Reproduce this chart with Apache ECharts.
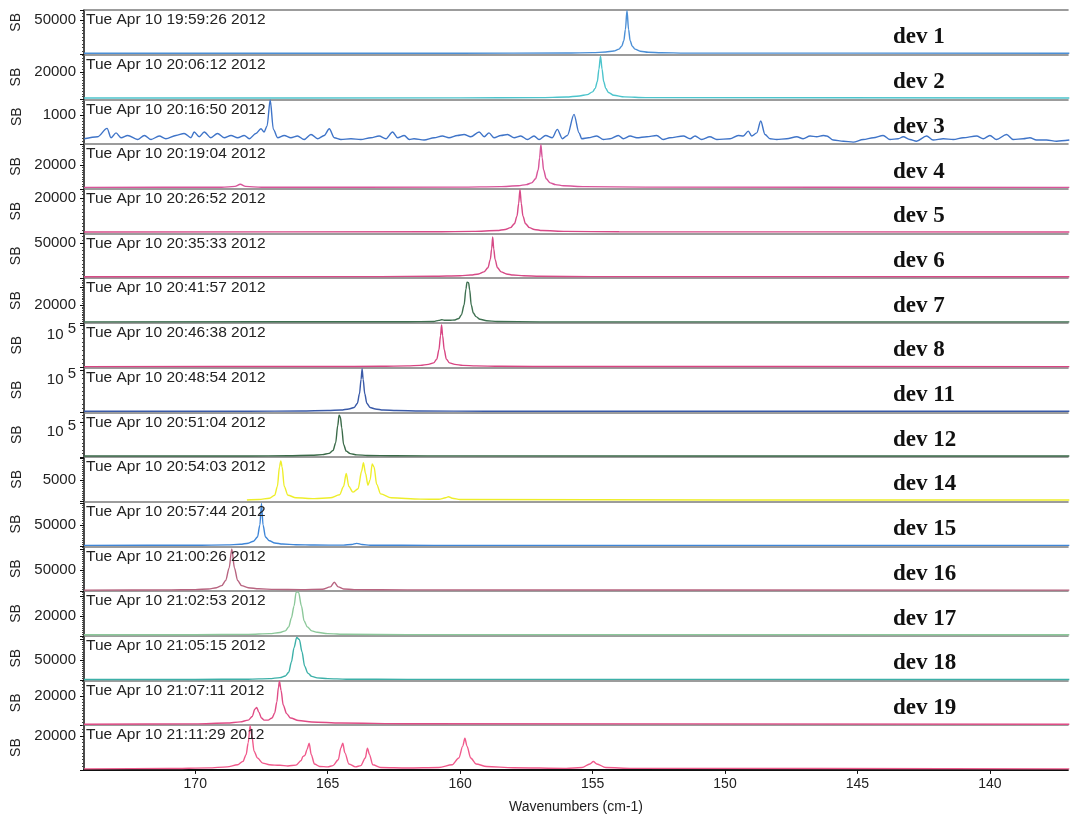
<!DOCTYPE html>
<html>
<head>
<meta charset="utf-8">
<script src="https://cdn.jsdelivr.net/npm/echarts@6/dist/echarts.min.js"></script>
<style>
  html, body { margin: 0; padding: 0; background: #fff; }
  #chart { width: 1070px; height: 818px; }
</style>
</head>
<body>
<div id="chart"></div>
<script>
// Acquisition time stamp of each spectrum, top to bottom
const stamps = [
  'Tue Apr 10 19:59:26 2012', 'Tue Apr 10 20:06:12 2012', 'Tue Apr 10 20:16:50 2012',
  'Tue Apr 10 20:19:04 2012', 'Tue Apr 10 20:26:52 2012', 'Tue Apr 10 20:35:33 2012',
  'Tue Apr 10 20:41:57 2012', 'Tue Apr 10 20:46:38 2012', 'Tue Apr 10 20:48:54 2012',
  'Tue Apr 10 20:51:04 2012', 'Tue Apr 10 20:54:03 2012', 'Tue Apr 10 20:57:44 2012',
  'Tue Apr 10 21:00:26 2012', 'Tue Apr 10 21:02:53 2012', 'Tue Apr 10 21:05:15 2012',
  'Tue Apr 10 21:07:11 2012', 'Tue Apr 10 21:11:29 2012'
];
// Device names (last trace is unlabelled)
const devNames = ['dev 1', 'dev 2', 'dev 3', 'dev 4', 'dev 5', 'dev 6', 'dev 7', 'dev 8',
  'dev 11', 'dev 12', 'dev 14', 'dev 15', 'dev 16', 'dev 17', 'dev 18', 'dev 19', ''];
// Labelled intensity tick of each panel and the panel's full-scale value
const yLabelValues = [50000, 20000, 1000, 20000, 20000, 50000, 20000, 100000, 100000, 100000,
  5000, 50000, 50000, 20000, 50000, 20000, 20000];
const yMax = [64000, 32500, 1550, 37600, 25300, 64000, 50000, 105000, 106000, 128000,
  10300, 104000, 106000, 45000, 109000, 30800, 26300];
// Wavenumber ticks (cm-1)
const xTicks = [170, 165, 160, 155, 150, 145, 140];
const xRange = [137.05, 174.2];

// Spectra: [wavenumber (cm-1), intensity]
const dev1 = [[174.2,2000],[160,2100],[156,2400],[155,2900],[154.5,3800],[154.2,5200],[154.0,8000],[153.9,12000],[153.82,20000],[153.76,36000],[153.70,63500],[153.64,36000],[153.58,20000],[153.50,12000],[153.4,8000],[153.2,5000],[152.9,3600],[152.4,2800],[151.5,2300],[137,2000]];
const dev2 = [[174.2,1000],[160,1100],[157,1300],[156,1700],[155.5,2500],[155.2,3500],[155.0,5500],[154.9,8000],[154.82,13000],[154.76,22000],[154.70,31500],[154.64,22000],[154.58,13000],[154.5,8000],[154.4,5000],[154.2,3000],[153.8,1800],[153,1300],[137,1000]];
const dev3 = [[174.19,185],[173.69,255],[173.33,545],[173.18,220],[172.99,390],[172.80,220],[172.55,300],[172.18,160],[171.92,300],[171.67,160],[171.36,280],[171.11,185],[170.73,300],[170.42,370],[170.16,220],[170.04,420],[169.85,255],[169.66,420],[169.41,220],[169.16,370],[168.91,220],[168.65,300],[168.40,220],[168.15,300],[167.96,185],[167.71,370],[167.52,530],[167.40,420],[167.29,625],[167.17,1530],[167.05,510],[166.89,220],[166.64,300],[166.39,220],[166.14,280],[165.89,160],[165.63,335],[165.38,185],[165.13,300],[164.94,530],[164.75,220],[164.50,160],[164.12,185],[163.75,160],[163.37,220],[163.06,280],[162.80,185],[162.55,420],[162.36,220],[162.11,300],[161.92,160],[161.74,185],[161.36,140],[160.98,220],[160.67,280],[160.42,220],[160.10,300],[159.85,335],[159.60,255],[159.28,420],[159.09,255],[158.91,390],[158.72,220],[158.46,300],[158.21,335],[157.96,220],[157.71,280],[157.46,160],[157.21,280],[157.02,160],[156.77,300],[156.52,220],[156.33,510],[156.14,185],[155.95,300],[155.70,1030],[155.51,390],[155.41,185],[155.16,220],[154.84,280],[154.59,160],[154.34,185],[154.03,300],[153.84,185],[153.58,280],[153.33,220],[152.95,255],[152.58,300],[152.33,160],[152.08,220],[151.57,280],[151.32,185],[151.13,280],[150.88,160],[150.57,255],[150.31,160],[149.81,185],[149.50,300],[149.31,280],[149.12,450],[148.99,280],[148.80,390],[148.65,800],[148.49,335],[148.30,185],[148.05,160],[147.67,185],[147.29,255],[147.05,185],[146.79,280],[146.54,255],[146.29,300],[146.16,280],[145.91,140],[145.53,100],[145.16,70],[144.78,160],[144.40,220],[144.03,300],[143.77,160],[143.46,185],[143.27,255],[143.02,160],[142.77,100],[142.39,280],[142.14,140],[141.76,185],[141.38,160],[141.01,220],[140.50,280],[140.25,185],[140.00,300],[139.75,160],[139.37,335],[139.12,160],[138.74,185],[138.49,220],[138.24,140],[137.86,140],[137.48,100],[137.0,140]];
const dev4 = [[174.2,1200],[169,1300],[168.5,2000],[168.3,3800],[168.1,2000],[167.5,1300],[160,1400],[158.5,1800],[157.8,2600],[157.5,3500],[157.3,5000],[157.15,8500],[157.05,16000],[157.0,26000],[156.95,37000],[156.9,26000],[156.85,16000],[156.75,8500],[156.6,5000],[156.4,3500],[156.1,2600],[155.3,1800],[153,1400],[137,1200]];
const dev5 = [[174.2,850],[161,950],[159.5,1200],[158.6,1700],[158.3,2300],[158.1,3300],[157.95,5500],[157.85,10000],[157.79,17000],[157.74,25000],[157.69,17000],[157.63,10000],[157.53,5500],[157.38,3300],[157.2,2300],[156.9,1700],[156,1200],[154,950],[137,850]];
const dev6 = [[174.2,2100],[163,2300],[161,2800],[160,3500],[159.6,4500],[159.3,6000],[159.1,9000],[158.95,15000],[158.86,27000],[158.81,42000],[158.77,59000],[158.73,42000],[158.68,27000],[158.59,15000],[158.45,9000],[158.25,6000],[158.0,4500],[157.6,3500],[157,2700],[155,2300],[137,2100]];
const dev7 = [[174.2,1100],[162,1300],[161,1600],[160.8,2800],[160.7,3600],[160.6,3000],[160.4,2900],[160.2,3300],[160.05,5000],[159.95,9000],[159.85,20000],[159.78,38000],[159.74,45500],[159.68,45000],[159.64,37000],[159.58,20000],[159.5,11000],[159.4,7000],[159.25,4000],[159.0,2400],[158.6,1600],[157,1200],[137,1100]];
const dev8 = [[174.2,2300],[165,2500],[163,3000],[162,4000],[161.5,5200],[161.2,7500],[161.0,11000],[160.88,20000],[160.8,42000],[160.74,75000],[160.7,100000],[160.66,75000],[160.6,42000],[160.52,20000],[160.4,11000],[160.2,7500],[159.9,5200],[159.4,4000],[158.5,3000],[156,2500],[137,2300]];
const dev11 = [[174.2,2400],[168,2600],[166,3100],[165,4100],[164.5,5300],[164.2,7800],[164.0,11500],[163.88,21000],[163.8,44000],[163.74,78000],[163.7,103000],[163.66,78000],[163.6,44000],[163.52,21000],[163.4,11500],[163.2,7800],[162.9,5300],[162.4,4100],[161.5,3100],[159,2600],[137,2400]];
const dev12 = [[174.2,2900],[168,3000],[166.5,3600],[165.6,4800],[165.2,6800],[164.95,10400],[164.8,18400],[164.7,40000],[164.62,90000],[164.57,120000],[164.52,114000],[164.47,84000],[164.4,36000],[164.3,16800],[164.15,9600],[163.9,6000],[163.5,4500],[162.5,3600],[160,3100],[137,2900]];
const dev14 = [[168.05,400],[167.6,500],[167.2,800],[167.0,1500],[166.9,3500],[166.82,8000],[166.77,9400],[166.72,8000],[166.64,3500],[166.5,1500],[166.2,900],[165.5,700],[164.9,900],[164.55,1600],[164.4,3500],[164.3,6500],[164.2,3500],[164.05,2200],[163.85,3000],[163.72,7000],[163.65,9000],[163.57,6500],[163.48,3800],[163.4,5000],[163.32,8700],[163.25,8000],[163.15,4000],[163.0,1800],[162.6,900],[161.5,600],[160.8,550],[160.55,900],[160.44,1150],[160.3,800],[160,500],[150,400],[137,400]];
const dev15 = [[174.2,2300],[170,2600],[168.8,3500],[168.3,5000],[168.0,7500],[167.8,12000],[167.65,22000],[167.56,50000],[167.5,100000],[167.44,50000],[167.35,22000],[167.2,13000],[167.0,8000],[166.7,5500],[166.2,4000],[165.5,3200],[164.4,2900],[164.1,4500],[163.9,7000],[163.7,4500],[163.4,2800],[161,2500],[137,2300]];
const dev16 = [[174.2,2400],[171,2800],[170,3500],[169.5,5000],[169.2,8000],[169.0,13000],[168.85,25000],[168.72,55000],[168.62,100000],[168.52,55000],[168.4,25000],[168.25,13000],[168.0,8000],[167.6,5500],[167.0,4000],[166,3500],[165.2,4500],[164.9,10000],[164.75,21000],[164.6,10000],[164.4,5000],[164,3500],[162,2800],[137,2400]];
const dev17 = [[174.2,1000],[170,1100],[168,1400],[167.2,2200],[166.8,3300],[166.6,5000],[166.47,9000],[166.37,18000],[166.27,30000],[166.19,44000],[166.1,44000],[165.99,30000],[165.89,15000],[165.77,9000],[165.6,5000],[165.4,3500],[165.0,2200],[164.3,1500],[162,1200],[137,1000]];
const dev18 = [[174.2,2400],[170,2600],[168,3200],[167.2,4500],[166.8,7000],[166.6,11000],[166.47,20000],[166.37,45000],[166.27,80000],[166.17,105000],[166.07,100000],[165.97,70000],[165.87,35000],[165.75,18000],[165.6,10000],[165.4,6500],[165.0,4500],[164.3,3200],[162,2800],[137,2400]];
const dev19 = [[174.2,700],[170,900],[168.8,1500],[168.3,2300],[168.0,3500],[167.85,6000],[167.75,11000],[167.68,12200],[167.6,9000],[167.5,5000],[167.4,3500],[167.25,3500],[167.1,5000],[167.0,8500],[166.92,16000],[166.86,26000],[166.82,30300],[166.76,24000],[166.68,14000],[166.55,8000],[166.4,5000],[166.1,3200],[165.6,2200],[164.5,1500],[162,1000],[137,700]];
const devLast = [[174.2,600],[171,800],[169.5,1200],[168.8,1800],[168.4,3000],[168.2,5000],[168.08,9000],[168.0,16000],[167.93,26000],[167.86,20000],[167.78,11000],[167.65,7000],[167.45,4000],[167.2,3000],[167.0,2800],[166.8,2700],[166.5,2300],[166.2,2800],[166.0,5500],[165.94,7800],[165.86,8500],[165.78,12000],[165.7,15700],[165.62,9000],[165.5,3500],[165.3,2000],[165.0,1800],[164.8,2500],[164.6,6000],[164.5,13000],[164.43,15700],[164.35,10000],[164.2,3500],[163.95,1800],[163.75,2500],[163.58,7000],[163.5,12800],[163.42,9000],[163.3,3000],[163.0,1400],[162,1100],[160.8,1400],[160.3,3000],[160.05,7000],[159.9,14000],[159.82,18600],[159.74,14000],[159.6,7000],[159.4,3500],[159.0,2000],[158,1300],[156,900],[155.4,1400],[155.1,3500],[154.97,4900],[154.84,3500],[154.5,1400],[153.5,900],[137,600]];

const spectra = [dev1, dev2, dev3, dev4, dev5, dev6, dev7, dev8, dev11, dev12, dev14, dev15,
  dev16, dev17, dev18, dev19, devLast];
const colors = ['#4b8fd6', '#4cc4cc', '#3f74c8', '#d8559a', '#d84a88', '#d64a86', '#3e7050',
  '#d84482', '#3a5aa8', '#3a6a48', '#eeee2a', '#3f86d8', '#b86480', '#8cc89a', '#3cb0a8',
  '#e04c86', '#f05a8c'];

// Panel geometry
const plotLeft = 84, plotRight = 2, plotTop = 10, panelH = 44.7;
const n = spectra.length;
const sans = '"Liberation Sans", Arial, sans-serif';
const serif = '"Liberation Serif", "Times New Roman", serif';
// Shift of the rotated "SB" names along the axis (panel 1 and 3 sit a little higher)
const nameShift = [20, 0, 10, 0, 0, 0, 0, 0, 0, 0, 0, 0, 0, 0, 0, 0, 0];

const grid = [], xAxis = [], yAxis = [], series = [], title = [];
for (let i = 0; i < n; i++) {
  const top = plotTop + i * panelH;
  const last = i === n - 1;
  grid.push({ left: plotLeft, right: plotRight, top: top, height: panelH });
  xAxis.push({
    gridIndex: i, type: 'value', min: xRange[0], max: xRange[1], inverse: true,
    axisLine: { show: true, onZero: false, lineStyle: { color: last ? '#111' : '#7c7c7c', width: last ? 1.8 : 1.6 } },
    axisTick: { show: last, customValues: xTicks, length: 4, lineStyle: { color: '#111' } },
    axisLabel: { show: last, customValues: xTicks, margin: 7, fontSize: 14, color: '#222', fontFamily: sans },
    splitLine: { show: false },
    name: last ? 'Wavenumbers (cm-1)' : '', nameLocation: 'middle', nameGap: 30,
    nameTextStyle: { fontSize: 14, color: '#222', fontFamily: sans }
  });
  const lv = yLabelValues[i];
  yAxis.push({
    gridIndex: i, type: 'value', min: 0, max: yMax[i], interval: lv,
    axisLine: { show: true, onZero: false, lineStyle: { color: '#111', width: 1.5 } },
    axisTick: { show: true, length: 4, lineStyle: { color: '#111' } },
    minorTick: { show: true, splitNumber: 10, length: 2, lineStyle: { color: '#444' } },
    splitLine: { show: false },
    axisLabel: {
      margin: 8, fontSize: 15, color: '#222', fontFamily: sans,
      formatter: v => v === lv ? (lv === 100000 ? '{b|10} {s|5}' : String(lv)) : '',
      rich: {
        b: { fontSize: 15, color: '#222', fontFamily: sans, padding: [20, 0, 0, 0] },
        s: { fontSize: 15, color: '#222', fontFamily: sans, padding: [8, 0, 0, 0] }
      }
    },
    name: 'SB', nameLocation: 'middle', nameGap: 60, nameRotate: 90,
    nameTextStyle: { fontSize: 14, color: '#222', fontFamily: sans, padding: [0, 0, 0, nameShift[i]] }
  });
  series.push({
    type: 'line', xAxisIndex: i, yAxisIndex: i, data: spectra[i],
    showSymbol: false, symbol: 'none', smooth: 0.3, smoothMonotone: 'x',
    clip: false, silent: true,
    lineStyle: { color: colors[i], width: 1.4 }
  });
  title.push({
    text: stamps[i], left: plotLeft + 2, top: top + 2, padding: 0,
    textStyle: { fontSize: 15.5, fontWeight: 'normal', color: '#222', fontFamily: sans }
  });
  if (devNames[i]) {
    title.push({
      text: devNames[i], left: 893, top: top + 16, padding: 0,
      textStyle: { fontSize: 23, fontWeight: 'bold', color: '#111', fontFamily: serif }
    });
  }
}
// Frame line across the top of the first panel
xAxis.push({
  gridIndex: 0, type: 'value', position: 'top', min: xRange[0], max: xRange[1], inverse: true,
  axisLine: { show: true, onZero: false, lineStyle: { color: '#7c7c7c', width: 1.6 } },
  axisTick: { show: false }, axisLabel: { show: false }, splitLine: { show: false }
});

const chart = echarts.init(document.getElementById('chart'), null, { renderer: 'canvas' });
chart.setOption({
  animation: false,
  backgroundColor: '#fff',
  title: title,
  grid: grid,
  xAxis: xAxis,
  yAxis: yAxis,
  series: series
});
</script>
</body>
</html>
